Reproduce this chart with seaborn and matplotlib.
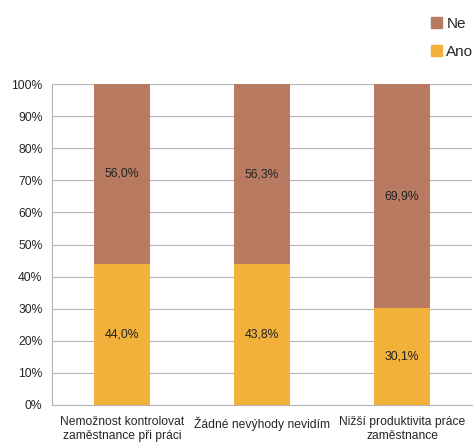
import numpy as np
import pandas as pd
import matplotlib
matplotlib.use("Agg")
import matplotlib.pyplot as plt
import seaborn as sns
from matplotlib.patches import Patch
from matplotlib.ticker import PercentFormatter

categories = ["Nemožnost kontrolovat\nzaměstnance při práci",
              "Žádné nevýhody nevidím",
              "Nižší produktivita práce\nzaměstnance"]
ano = [44.0, 43.8, 30.1]
ne = [56.0, 56.3, 69.9]

c_ano = "#F2B13B"
c_ne = "#B97A62"

sns.set_style("white")
plt.rcParams['font.family'] = ['Liberation Sans', 'DejaVu Sans']

df = pd.DataFrame({"kategorie": categories, "Ano": ano, "Ne": ne})
df["total"] = df["Ano"] + df["Ne"]

fig = plt.figure(figsize=(4.73, 4.47), dpi=100)
ax = fig.add_axes([0.110, 0.094, 0.888, 0.718])

sns.barplot(data=df, x="kategorie", y="total", color=c_ne, width=0.4,
            saturation=1, linewidth=0, ax=ax, zorder=2)
sns.barplot(data=df, x="kategorie", y="Ano", color=c_ano, width=0.4,
            saturation=1, linewidth=0, ax=ax, zorder=3)

for i, (a, n) in enumerate(zip(ano, ne)):
    ax.text(i, a / 2, f"{a:.1f}%".replace(".", ","), ha="center", va="center",
            fontsize=8.7, color="#222222", zorder=4)
    ax.text(i, a + min(n, 100 - a) / 2, f"{n:.1f}%".replace(".", ","),
            ha="center", va="center", fontsize=8.7, color="#222222", zorder=4)

ax.set_ylim(0, 100)
ax.set_xlim(-0.5, 2.5)
ax.set_yticks(np.arange(0, 101, 10))
ax.yaxis.set_major_formatter(PercentFormatter(decimals=0))
ax.grid(axis="y", color="#B4B4B4", linewidth=0.8, zorder=0)
ax.set_axisbelow(True)
for s in ["top", "right"]:
    ax.spines[s].set_visible(False)
ax.spines["left"].set_color("#B4B4B4")
ax.spines["bottom"].set_color("#B4B4B4")
ax.set_xlabel("")
ax.set_ylabel("")
ax.tick_params(axis="y", labelsize=8.7, length=4, color="#B4B4B4", pad=3)
ax.tick_params(axis="x", labelsize=8.7, length=0, pad=8)
ax.set_xticks([-0.5, 0.5, 1.5, 2.5], minor=True)
ax.tick_params(axis="x", which="minor", length=4, color="#B4B4B4")

handles = [Patch(color=c_ne, label="Ne"), Patch(color=c_ano, label="Ano")]
fig.legend(handles=handles, loc="upper right", bbox_to_anchor=(1.03, 0.993),
           frameon=False, fontsize=11, handlelength=0.7, handleheight=0.7,
           handletextpad=0.3, labelspacing=0.9)

fig.savefig("out.png", dpi=100)
